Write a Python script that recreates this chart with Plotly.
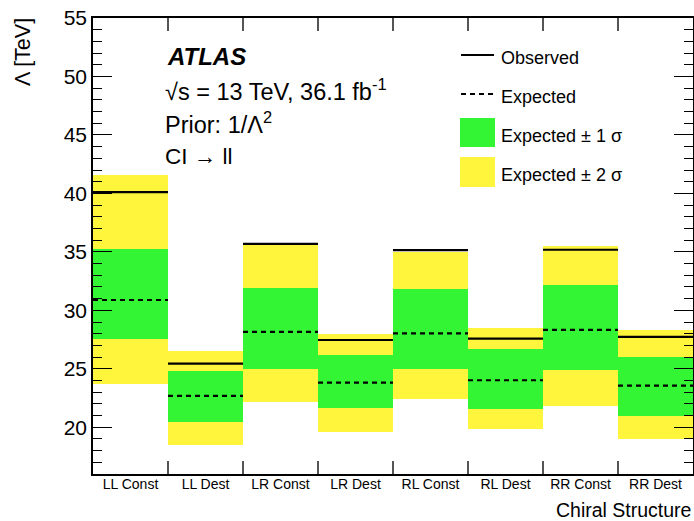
import plotly.graph_objects as go

categories = ["LL Const", "LL Dest", "LR Const", "LR Dest", "RL Const", "RL Dest", "RR Const", "RR Dest"]
observed = [40.1, 25.44, 35.69, 27.46, 35.15, 27.57, 35.18, 27.72]
expected = [30.88, 22.68, 28.15, 23.81, 28.03, 24.02, 28.32, 23.56]
one_sig_lo = [27.52, 20.45, 24.96, 21.62, 24.98, 21.59, 24.92, 20.99]
one_sig_hi = [35.24, 24.81, 31.88, 26.18, 31.82, 26.69, 32.16, 25.98]
two_sig_lo = [23.68, 18.49, 22.19, 19.62, 22.42, 19.83, 21.82, 19.00]
two_sig_hi = [41.56, 26.52, 35.60, 27.97, 34.98, 28.49, 35.52, 28.34]

YELLOW = "#fff53c"
GREEN = "#34f534"
FONT = "Liberation Sans, Arial, sans-serif"

n = len(categories)
xs = list(range(n))

fig = go.Figure()
fig.add_trace(go.Bar(x=xs, y=[h - l for h, l in zip(two_sig_hi, two_sig_lo)], base=two_sig_lo,
                     width=1.0, marker=dict(color=YELLOW, line=dict(width=0)), showlegend=False))
fig.add_trace(go.Bar(x=xs, y=[h - l for h, l in zip(one_sig_hi, one_sig_lo)], base=one_sig_lo,
                     width=1.0, marker=dict(color=GREEN, line=dict(width=0)), showlegend=False))


def step_xy(vals):
    lx, ly = [], []
    for i, v in enumerate(vals):
        lx += [i - 0.5, i + 0.5, None]
        ly += [v, v, None]
    return lx, ly


ex, ey = step_xy(expected)
fig.add_trace(go.Scatter(x=ex, y=ey, mode="lines", line=dict(color="black", width=2.2, dash="5px,4px"),
                         showlegend=False, hoverinfo="skip"))
ox, oy = step_xy(observed)
fig.add_trace(go.Scatter(x=ox, y=oy, mode="lines", line=dict(color="black", width=2.2),
                         showlegend=False, hoverinfo="skip"))
# dummy trace on xaxis2 to carry category labels
fig.add_trace(go.Scatter(x=[0], y=[None], xaxis="x2", showlegend=False, hoverinfo="skip"))

fig.update_layout(
    template="none",
    width=694, height=521,
    margin=dict(l=93, r=1, t=18, b=47),
    plot_bgcolor="white", paper_bgcolor="white",
    barmode="overlay", bargap=0,
    font=dict(family=FONT, color="black"),
    xaxis=dict(range=[-0.5, n - 0.5], tickvals=[i + 0.5 for i in range(n - 1)],
               showticklabels=False, ticks="inside", ticklen=13, tickcolor="#555", tickwidth=1.5,
               showline=True, linecolor="black", linewidth=1.5, mirror="ticks",
               showgrid=False, zeroline=False, automargin=False),
    xaxis2=dict(range=[-0.5, n - 0.5], overlaying="x", side="bottom", tickvals=xs, ticktext=categories,
                ticks="", showline=False, showgrid=False, zeroline=False, automargin=False,
                tickfont=dict(size=14, family=FONT), matches="x", ticklabeloverflow="allow"),
    yaxis=dict(range=[16, 55], tickvals=[20, 25, 30, 35, 40, 45, 50, 55], ticks="inside", ticklen=19,
               tickcolor="black", tickwidth=1.3, tickfont=dict(size=21, family=FONT),
               minor=dict(dtick=1, ticks="inside", ticklen=9, tickcolor="black", tickwidth=1.3),
               showline=True, linecolor="black", linewidth=1.5, mirror="ticks",
               showgrid=False, zeroline=False, automargin=False, ticklabeloverflow="allow"),
    showlegend=False,
)


def px(xp):
    return (xp - 93) / 600


def py(yp):
    return (474 - yp) / 456


ann = []
ann.append(dict(x=px(23), y=py(16), xref="paper", yref="paper", text="Λ [TeV]", textangle=-90,
                showarrow=False, xanchor="center", yanchor="top", font=dict(size=21.5, family=FONT)))
ann.append(dict(x=1.0, y=py(510), xref="paper", yref="paper", text="Chiral Structure", showarrow=False,
                xanchor="right", yanchor="middle", font=dict(size=19.5, family=FONT)))
ann.append(dict(x=px(165), y=py(57), xref="paper", yref="paper",
                text="<b><i>ATLAS</i></b>", showarrow=False, xanchor="left", yanchor="middle",
                font=dict(size=24, family=FONT)))
ann.append(dict(x=px(163), y=py(90), xref="paper", yref="paper",
                text="√s = 13 TeV, 36.1 fb<sup>-1</sup>", showarrow=False, xanchor="left", yanchor="middle",
                font=dict(size=23.5, family=FONT)))
ann.append(dict(x=px(163), y=py(123), xref="paper", yref="paper",
                text="Prior: 1/Λ<sup>2</sup>", showarrow=False, xanchor="left", yanchor="middle",
                font=dict(size=23.5, family=FONT)))
ann.append(dict(x=px(163), y=py(156), xref="paper", yref="paper",
                text="CI → ll", showarrow=False, xanchor="left", yanchor="middle",
                font=dict(size=22.5, family=FONT)))

leg_text = ["Observed", "Expected", "Expected ± 1 σ", "Expected ± 2 σ"]
leg_y = [57.5, 97, 136, 174.5]
for t, yy in zip(leg_text, leg_y):
    ann.append(dict(x=px(499), y=py(yy), xref="paper", yref="paper", text=t,
                    showarrow=False, xanchor="left", yanchor="middle", font=dict(size=18, family=FONT)))

shapes = [
    dict(type="line", xref="paper", yref="paper", x0=px(461), x1=px(494), y0=py(55), y1=py(55),
         line=dict(color="black", width=2.2)),
    dict(type="line", xref="paper", yref="paper", x0=px(461), x1=px(494), y0=py(94), y1=py(94),
         line=dict(color="black", width=2.2, dash="5px,4px")),
    dict(type="rect", xref="paper", yref="paper", x0=px(460), x1=px(495), y0=py(147), y1=py(118),
         fillcolor=GREEN, line=dict(width=0)),
    dict(type="rect", xref="paper", yref="paper", x0=px(460), x1=px(495), y0=py(187), y1=py(157),
         fillcolor=YELLOW, line=dict(width=0)),
]
fig.update_layout(annotations=ann, shapes=shapes)

fig.write_html("out.html", config={"displayModeBar": False},
               post_script="document.body.style.margin='0';document.body.style.overflow='hidden';")
